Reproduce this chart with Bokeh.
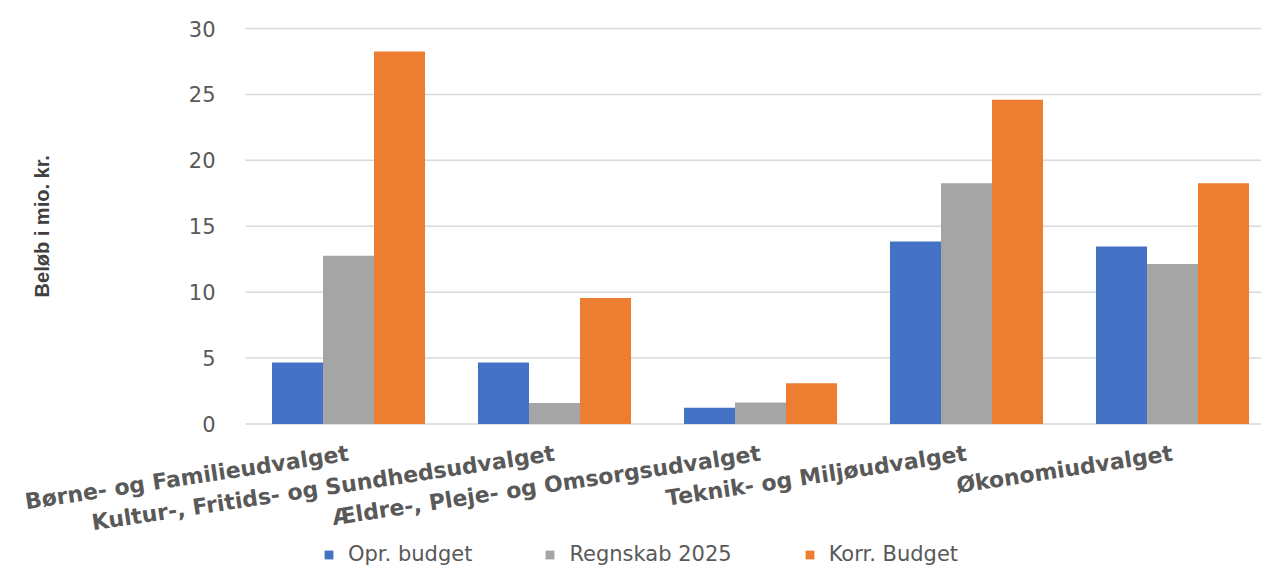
import math
from bokeh.plotting import figure
from bokeh.models import Range1d, Legend, LegendItem, ColumnDataSource
from bokeh.core.properties import value
from bokeh.transform import dodge
from bokeh.embed import file_html
from bokeh.resources import INLINE

categories = [
    "Børne- og Familieudvalget",
    "Kultur-, Fritids- og Sundhedsudvalget",
    "Ældre-, Pleje- og Omsorgsudvalget",
    "Teknik- og Miljøudvalget",
    "Økonomiudvalget",
]
series_names = ["Opr. budget", "Regnskab 2025", "Korr. Budget"]
opr_budget = [4.67, 4.67, 1.23, 13.84, 13.46]
regnskab_2025 = [12.76, 1.60, 1.63, 18.27, 12.13]
korr_budget = [28.25, 9.55, 3.09, 24.59, 18.27]
y_ticks = [0, 5, 10, 15, 20, 25, 30]
y_title = "Beløb i mio. kr."
colors = ["#4472C4", "#A5A5A5", "#ED7D31"]

# layout constants (pixels)
left_px = 245          # space left of the value axis
cat_px = 206           # width of one category
frame_w = 1261
top_px, plot_px, band_px = 28, 395.5, 142.5

pos = [i + 0.5 for i in range(len(categories))]
src = ColumnDataSource(dict(x=pos, opr=opr_budget, regn=regnskab_2025, korr=korr_budget))

x_start = -left_px / cat_px
x_end = (frame_w - left_px) / cat_px
y_max = y_ticks[-1]
units_per_px = (y_ticks[-1] - y_ticks[0]) / plot_px
y_top = y_max + top_px * units_per_px
y_bottom = y_ticks[0] - band_px * units_per_px

p = figure(
    frame_width=frame_w, frame_height=int(top_px + plot_px + band_px),
    x_range=Range1d(x_start, x_end), y_range=Range1d(y_bottom, y_top),
    output_backend="svg", toolbar_location=None,
    min_border_left=0, min_border_top=0, min_border_right=0, min_border_bottom=0,
    outline_line_color=None,
)
p.axis.visible = False
p.grid.visible = False

# horizontal gridlines starting at the value axis
grid_src = ColumnDataSource(dict(x0=[0] * len(y_ticks), x1=[x_end] * len(y_ticks), y=y_ticks))
p.segment(x0="x0", x1="x1", y0="y", y1="y", source=grid_src, line_color="#d9d9d9", line_width=1.5)

# value-axis tick labels
tick_src = ColumnDataSource(dict(x=[0] * len(y_ticks), y=y_ticks, text=[str(t) for t in y_ticks]))
p.text(x="x", y="y", text="text", source=tick_src, x_offset=-30,
       text_align="right", text_baseline="middle",
       text_font=value("DejaVu Sans"), text_font_size="21px", text_color="#595959")

# value-axis title
p.text(x=[0], y=[(y_ticks[0] + y_ticks[-1]) / 2], text=[y_title], x_offset=-204, angle=math.pi / 2,
       text_align="center", text_baseline="middle",
       text_font=value("Liberation Sans"), text_font_style="bold",
       text_font_size="20px", text_color="#404040")

bw = 0.2476
renderers = []
for off, col, c in zip([-bw, 0, bw], ["opr", "regn", "korr"], colors):
    r = p.vbar(x=dodge("x", off, range=p.x_range), top=col, width=bw, source=src,
               fill_color=c, line_color=None)
    renderers.append(r)

# category labels under the bars
lab_src = ColumnDataSource(dict(x=pos, y=[y_ticks[0]] * len(categories), text=categories))
p.text(x="x", y="y", text="text", source=lab_src, angle=0.15,
       text_align="right", text_baseline="middle", y_offset=29,
       text_font=value("DejaVu Sans"), text_font_style="bold",
       text_font_size="22px", text_color="#595959")

legend = Legend(
    items=[LegendItem(label=n, renderers=[r]) for n, r in zip(series_names, renderers)],
    orientation="horizontal", location=(323, 0),
    glyph_width=11, glyph_height=11, label_standoff=14, spacing=72,
    label_text_font="DejaVu Sans", label_text_font_size="21px", label_text_color="#595959",
    border_line_color=None, background_fill_alpha=0, padding=0, margin=0,
)
p.add_layout(legend)

open("out.html", "w").write(file_html(p, INLINE))
